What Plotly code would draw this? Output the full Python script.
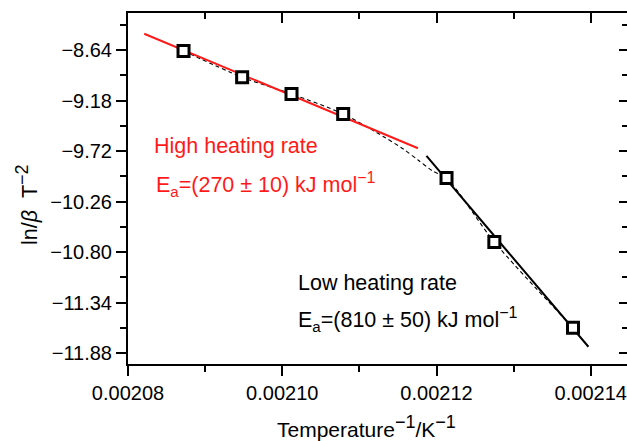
import plotly.graph_objects as go

# ---- data ----
inv_T = [0.0020872, 0.0020948, 0.0021012, 0.0021079, 0.0021213, 0.0021275, 0.0021377]
ln_beta_T2 = [-8.650, -8.932, -9.110, -9.324, -10.009, -10.693, -11.609]

high_fit_x = [0.0020821, 0.0021176]
high_fit_y = [-8.466, -9.691]

low_fit_x = [0.0021187, 0.0021397]
low_fit_y = [-9.773, -11.813]

curve_x = [0.0020872, 0.0020948, 0.0021012, 0.0021079, 0.0021132, 0.0021157,
           0.0021176, 0.0021195, 0.0021213, 0.0021275, 0.0021377]
curve_y = [-8.650, -8.932, -9.110, -9.324, -9.570, -9.699,
           -9.816, -9.934, -10.009, -10.693, -11.609]

x_tick_vals = [0.00208, 0.00210, 0.00212, 0.00214]
x_tick_text = ["0.00208", "0.00210", "0.00212", "0.00214"]
x_minor_vals = [0.00209, 0.00211, 0.00213]
y_tick_vals = [-8.64, -9.18, -9.72, -10.26, -10.80, -11.34, -11.88]
y_tick_text = ["\u22128.64", "\u22129.18", "\u22129.72", "\u221210.26",
               "\u221210.80", "\u221211.34", "\u221211.88"]
y_minor_vals = [-8.37, -8.91, -9.45, -9.99, -10.53, -11.07, -11.61]

x_range = [0.00208, 0.0021447]
y_range = [-11.9976, -8.2444]

FONT = "Liberation Sans, Arial, Helvetica, sans-serif"
RED = "#ff1a1a"

# ---- layout geometry (pixels) ----
W, H = 627, 441
ML, MR, MT, MB = 128, 0, 13, 77
PW = W - ML - MR
PH = H - MT - MB


def pxx(x):
    return (x - ML) / PW


def pxy(y):
    return (H - MB - y) / PH


def sup(t, size=15):
    return '<sup><span style="font-size:%dpx">%s</span></sup>' % (size, t)


fig = go.Figure()

fig.add_trace(go.Scatter(x=curve_x, y=curve_y, mode="lines",
                         line=dict(color="black", width=1.1, dash="4px,3px", shape="spline", smoothing=0.8),
                         showlegend=False, hoverinfo="skip"))
fig.add_trace(go.Scatter(x=high_fit_x, y=high_fit_y, mode="lines",
                         line=dict(color=RED, width=2), showlegend=False))
fig.add_trace(go.Scatter(x=low_fit_x, y=low_fit_y, mode="lines",
                         line=dict(color="black", width=2), showlegend=False))
fig.add_trace(go.Scatter(x=inv_T, y=ln_beta_T2, mode="markers",
                         marker=dict(symbol="square", size=11, color="white",
                                     line=dict(color="black", width=3)),
                         showlegend=False))
# invisible trace to activate the mirrored (top/right) tick axes
fig.add_trace(go.Scatter(x=inv_T[:1], y=ln_beta_T2[:1], mode="markers", xaxis="x2", yaxis="y2",
                         marker=dict(opacity=0), showlegend=False, hoverinfo="skip"))

tickfont = dict(family=FONT, size=20, color="black")

fig.update_layout(
    width=W, height=H,
    margin=dict(l=ML, r=MR, t=MT, b=MB, pad=0),
    paper_bgcolor="white", plot_bgcolor="white",
    font=dict(family=FONT, color="black"),
    xaxis=dict(range=x_range, tickmode="array", tickvals=x_tick_vals, ticktext=x_tick_text,
               ticks="outside", ticklen=10, tickwidth=2, tickcolor="black",
               minor=dict(tickvals=x_minor_vals, ticks="outside", ticklen=6, tickwidth=2, tickcolor="black"),
               showline=True, linewidth=2, linecolor="black", showgrid=False, zeroline=False,
               tickfont=tickfont),
    xaxis2=dict(range=x_range, overlaying="x", side="top", anchor="y", tickmode="array",
                tickvals=x_tick_vals, ticks="inside", ticklen=10, tickwidth=2, tickcolor="black",
                minor=dict(tickvals=x_minor_vals, ticks="inside", ticklen=6, tickwidth=2, tickcolor="black"),
                showticklabels=False, showline=True, linewidth=2, linecolor="black",
                showgrid=False, zeroline=False),
    yaxis=dict(range=y_range, tickmode="array", tickvals=y_tick_vals, ticktext=y_tick_text,
               ticks="outside", ticklen=10, tickwidth=2, tickcolor="black",
               minor=dict(tickvals=y_minor_vals, ticks="outside", ticklen=6, tickwidth=2, tickcolor="black"),
               showline=True, linewidth=2, linecolor="black", showgrid=False, zeroline=False,
               tickfont=tickfont),
    yaxis2=dict(range=y_range, overlaying="y", side="right", anchor="x", tickmode="array",
                tickvals=y_tick_vals, ticks="inside", ticklen=8, tickwidth=2, tickcolor="black",
                minor=dict(tickvals=y_minor_vals, ticks="inside", ticklen=5, tickwidth=2, tickcolor="black"),
                showticklabels=False, showline=False, showgrid=False, zeroline=False),
)

annotations = [
    dict(text="High heating rate", x=pxx(152), y=pxy(146), color=RED),
    dict(text="E<sub>a</sub>=(270 \u00b1 10) kJ mol" + sup("\u22121", 16), x=pxx(154), y=pxy(184), color=RED),
    dict(text="Low heating rate", x=pxx(296), y=pxy(283), color="black"),
    dict(text="E<sub>a</sub>=(810 \u00b1 50) kJ mol" + sup("\u22121", 16), x=pxx(296), y=pxy(319), color="black"),
]
for a in annotations:
    fig.add_annotation(text=a["text"], x=a["x"], y=a["y"], xref="paper", yref="paper",
                       xanchor="left", yanchor="middle", showarrow=False,
                       font=dict(family=FONT, size=21.5, color=a["color"]))

fig.add_annotation(text="Temperature" + sup("\u22121", 18) + "/K" + sup("\u22121", 18), x=pxx(366), y=pxy(426),
                   xref="paper", yref="paper", xanchor="center", yanchor="middle", showarrow=False,
                   font=dict(family=FONT, size=21, color="black"))
fig.add_annotation(text="ln/<i>\u03b2</i>  T" + sup("\u22122", 18), x=pxx(27), y=pxy(205),
                   xref="paper", yref="paper", xanchor="center", yanchor="middle", showarrow=False,
                   textangle=-90, font=dict(family=FONT, size=21.5, color="black"))

fig.write_html("out.html", config={"displayModeBar": False},
               post_script="document.body.style.margin='0';document.body.style.overflow='hidden';")
